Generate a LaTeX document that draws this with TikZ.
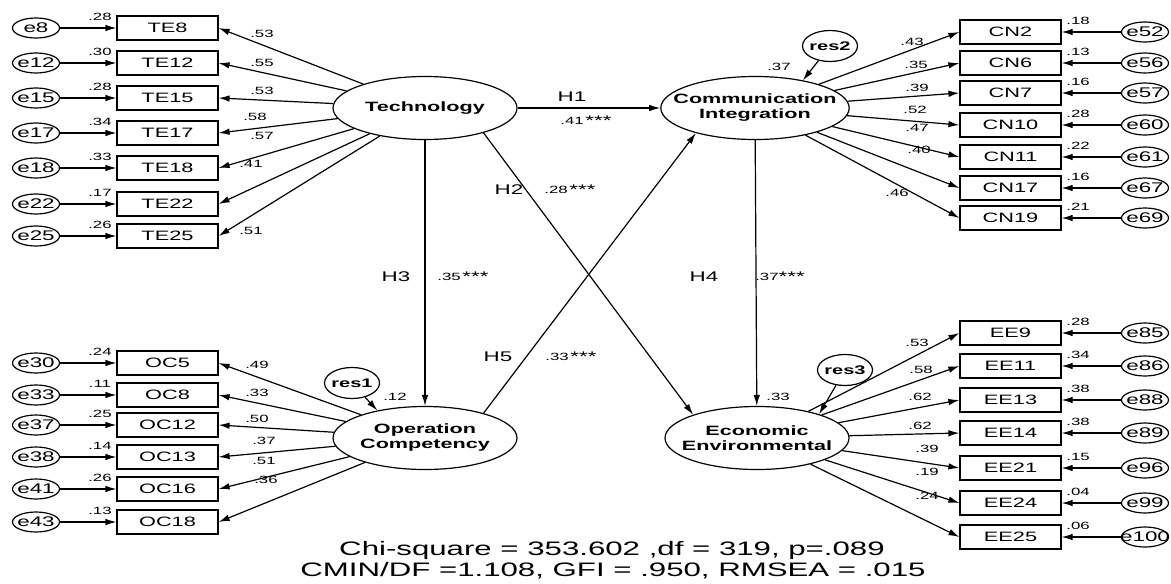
\documentclass[tikz,border=0pt]{standalone}
\usepackage{fontspec}
\setmainfont{Liberation Sans}[FakeStretch=1.6]
\usetikzlibrary{shapes.geometric, positioning, arrows.meta}
\newcommand{\stars}{{\fontsize{14}{14}\selectfont\raisebox{-1.5pt}{***}}}

\begin{document}
\begin{tikzpicture}[x=1pt, y=-1pt, line width=1.2pt, >={Latex[length=11pt,width=6.5pt]},
    obs/.style={draw, minimum width=101pt, minimum height=24pt, inner sep=0pt, font=\fontsize{13.6}{15}\selectfont},
    err/.style={draw, ellipse, minimum width=47pt, minimum height=20pt, inner xsep=-10pt, inner ysep=0pt, font=\fontsize{14}{16}\selectfont},
    lat/.style={draw, ellipse, minimum width=184pt, minimum height=63pt, inner xsep=-15pt, inner ysep=0pt, align=center, font=\fontsize{13.5}{15}\selectfont\bfseries},
    res/.style={draw, ellipse, minimum width=55pt, minimum height=31pt, inner xsep=-4pt, inner ysep=0pt, font=\fontsize{12.5}{15}\selectfont\bfseries},
    coef/.style={inner sep=0pt, font=\fontsize{10.5}{12}\selectfont},
    hyp/.style={inner sep=0pt, font=\fontsize{14}{16}\selectfont}]
    \useasboundingbox (0,0) rectangle (1171,584);

    % latent variables
    \node[lat] (tech) at (425,108) {Technology};
    \node[lat] (ci) at (755,108) {Communication\\Integration};
    \node[lat] (oc) at (425,438) {Operation\\Competency};
    \node[lat] (ee) at (757,438) {Economic\\Environmental};

    % residuals
    \node[res] (res2) at (830,46) {res2};
    \node[res] (res1) at (352,383) {res1};
    \node[res] (res3) at (845,370) {res3};
    \draw[->] (res2) -- (ci.30);
    \draw[->] (res1) -- (oc.150);
    \draw[->] (res3) -- (ee.21);
    \node[coef] at (779,67) {.37};
    \node[coef] at (395,397) {.12};
    \node[coef] at (778,397) {.33};

    % Technology items
    \foreach \n/\y/\v/\l/\lx/\ly in {8/28/.28/.53/262/34, 12/63/.30/.55/262/63, 15/98/.28/.53/262/91,
        17/133/.34/.58/255/117, 18/168/.33/.57/262/136, 22/204/.17/.41/251/164, 25/236/.26/.51/251/231}
    {
        \node[obs] (te\n) at (167.5,\y) {TE\n};
        \node[err] (e\n) at (36,\y) {e\n};
        \draw[->] (e\n) -- (te\n);
        \node[coef] at (100,\y-11) {\v};
        \draw[->] (tech) -- (te\n.east);
        \node[coef] at (\lx,\ly) {\l};
    }

    % Operation Competency items
    \foreach \n/\y/\err/\v/\l/\lx/\ly in {5/363/30/.24/.49/257/365, 8/395/33/.11/.33/257/393, 12/425/37/.25/.50/257/419,
        13/457/38/.14/.37/264/441, 16/489/41/.26/.51/264/461, 18/522/43/.13/.36/266/480}
    {
        \node[obs] (oc\n) at (167.5,\y) {OC\n};
        \node[err] (e\err) at (36,\y) {e\err};
        \draw[->] (e\err) -- (oc\n);
        \node[coef] at (100,\y-11) {\v};
        \draw[->] (oc) -- (oc\n.east);
        \node[coef] at (\lx,\ly) {\l};
    }

    % Communication Integration items
    \foreach \n/\y/\err/\v/\l/\lx/\ly in {2/32/52/.18/.43/912/42, 6/63/56/.13/.35/916/65, 7/93/57/.16/.39/917/88,
        10/125/60/.28/.52/915/110, 11/157/61/.22/.47/917/128, 17/188/67/.16/.40/919/150, 19/218/69/.21/.46/897/193}
    {
        \node[obs] (cn\n) at (1010.5,\y) {CN\n};
        \node[err] (e\err) at (1145,\y) {e\err};
        \draw[->] (e\err) -- (cn\n);
        \node[coef] at (1078,\y-11) {\v};
        \draw[->] (ci) -- (cn\n.west);
        \node[coef] at (\lx,\ly) {\l};
    }

    % Economic Environmental items
    \foreach \n/\y/\err/\v/\l/\lx/\ly in {9/333/85/.28/.53/917/343, 11/366/86/.34/.58/921/370, 13/400/88/.38/.62/920/397,
        14/433/89/.38/.62/920/426, 21/468/96/.15/.39/927/449, 24/503/99/.04/.19/927/472, 25/537/100/.06/.24/927/496}
    {
        \node[obs] (ee\n) at (1010.5,\y) {EE\n};
        \node[err] (e\err) at (1145,\y) {e\err};
        \draw[->] (e\err) -- (ee\n);
        \node[coef] at (1078,\y-11) {\v};
        \draw[->] (ee) -- (ee\n.west);
        \node[coef] at (\lx,\ly) {\l};
    }

    % hypotheses
    \draw[->] (tech) -- (ci);
    \draw[->] (tech.-23) -- (ee.160);
    \draw[->] (tech) -- (oc);
    \draw[->] (ci) -- (ee);
    \draw[->] (oc.23) -- (ci.-157);
    \node[hyp] at (572,97) {H1};
    \node[coef] at (586,121) {.41\,\stars};
    \node[hyp] at (509,190) {H2};
    \node[coef] at (570,190) {.28\,\stars};
    \node[hyp] at (396,277) {H3};
    \node[coef] at (463,277) {.35\,\stars};
    \node[hyp] at (704,277) {H4};
    \node[coef] at (780,277) {.37\stars};
    \node[hyp] at (498,357) {H5};
    \node[coef] at (571,357) {.33\,\stars};

    % fit indices
    \node[anchor=base, inner sep=0pt, font=\fontsize{19.5}{20}\selectfont] (fit1) at (612,555) {Chi-square = 353.602 ,df = 319, p=.089};
    \node[anchor=base, inner sep=0pt, font=\fontsize{19.5}{20}\selectfont] (fit2) at (613,576) {CMIN/DF =1.108, GFI = .950, RMSEA = .015};
\end{tikzpicture}
\end{document}
